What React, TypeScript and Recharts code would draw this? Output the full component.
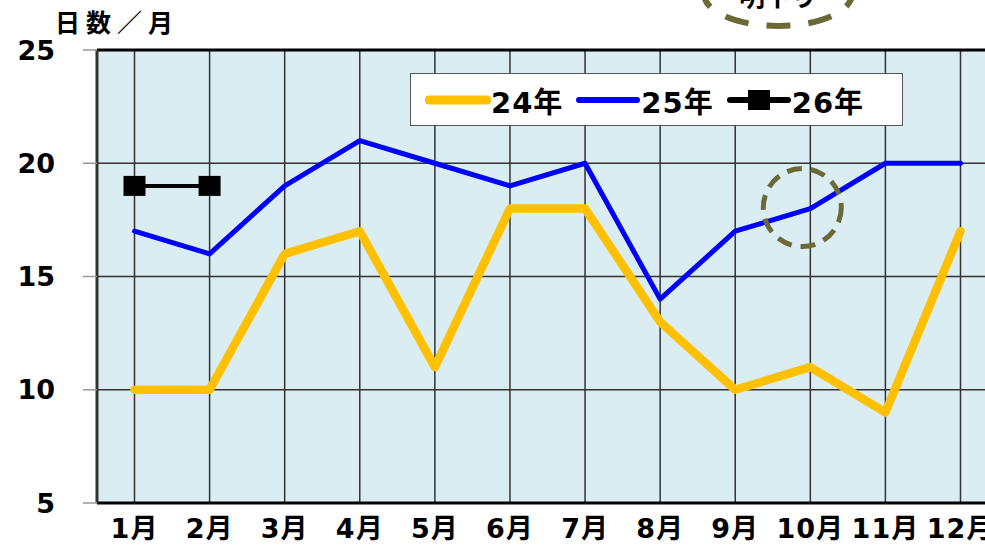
import React from 'react'
import {
  LineChart,
  Line,
  XAxis,
  YAxis,
  CartesianGrid,
  ReferenceDot,
  ReferenceLine,
} from 'recharts'

const months = ['1月', '2月', '3月', '4月', '5月', '6月', '7月', '8月', '9月', '10月', '11月', '12月']
const days24 = [10, 10, 16, 17, 11, 18, 18, 13, 10, 11, 9, 17]
const days25 = [17, 16, 19, 21, 20, 19, 20, 14, 17, 18, 20, 20]
const days26 = [19, 19]
const yTicks = [5, 10, 15, 20, 25]

const FONT = '"DejaVu Sans", "Noto Sans CJK JP", sans-serif'
const OLIVE = '#6b6a36'

const data = months.map((m, i) => ({
  month: m,
  y24: days24[i],
  y25: days25[i],
  y26: days26[i],
}))

// eslint-disable-next-line @typescript-eslint/no-explicit-any
function SquareDot({ cx, cy }: any) {
  if (cx == null || cy == null) return null
  return <rect x={cx - 11} y={cy - 10} width={22} height={20} fill="#000" />
}

function LegendBox() {
  const item = (color: string, width: number, label: string, square?: boolean) => (
    <div style={{ display: 'flex', alignItems: 'center' }}>
      <svg width={66} height={22}>
        <line x1={4} y1={11} x2={62} y2={11} stroke={color} strokeWidth={width} strokeLinecap="round" />
        {square && <rect x={22} y={1} width={22} height={20} fill="#000" />}
      </svg>
      <span style={{ fontSize: 29, fontWeight: 700, color: '#000', letterSpacing: 1 }}>{label}</span>
    </div>
  )
  return (
    <div
      style={{
        position: 'absolute',
        left: 410,
        top: 73,
        width: 493,
        height: 53,
        boxSizing: 'border-box',
        background: '#fff',
        border: '1.5px solid #555',
        display: 'flex',
        alignItems: 'center',
        paddingLeft: 14,
        gap: 12,
        fontFamily: FONT,
      }}
    >
      {item('#FFC000', 9, '24年')}
      {item('#0000FF', 6, '25年')}
      {item('#000', 6, '26年', true)}
    </div>
  )
}

export default function App() {
  return (
    <div
      style={{
        position: 'absolute',
        left: 0,
        top: 0,
        width: 985,
        height: 545,
        overflow: 'hidden',
        background: '#fff',
        fontFamily: FONT,
      }}
    >
      <LineChart width={1000} height={545} data={data} margin={{ top: 50, right: 2, left: 0, bottom: 0 }}>
        <CartesianGrid stroke="#333" strokeWidth={1.5} fill="#DAEDF3" fillOpacity={1} />
        <XAxis
          dataKey="month"
          height={42}
          padding={{ left: 37.5, right: 37.5 }}
          axisLine={{ stroke: '#000', strokeWidth: 3 }}
          tickLine={false}
          tickSize={0}
          tickMargin={16}
          tick={{ fill: '#000', fontSize: 27, fontWeight: 700, fontFamily: FONT, letterSpacing: 1 }}
          interval={0}
        />
        <YAxis
          width={97}
          domain={[5, 25]}
          ticks={yTicks}
          allowDataOverflow
          axisLine={{ stroke: '#333', strokeWidth: 3 }}
          tickLine={{ stroke: '#999', strokeWidth: 1.5 }}
          tickSize={14}
          tickMargin={28}
          tick={{ fill: '#000', fontSize: 27, fontWeight: 700, fontFamily: FONT }}
        />
        <ReferenceLine y={25} stroke="#000" strokeWidth={3} />
        <Line
          dataKey="y24"
          stroke="#FFC000"
          strokeWidth={8.5}
          strokeLinejoin="round"
          strokeLinecap="round"
          dot={false}
          activeDot={false}
          isAnimationActive={false}
        />
        <Line
          dataKey="y25"
          stroke="#0000FF"
          strokeWidth={5}
          strokeLinejoin="round"
          strokeLinecap="round"
          dot={false}
          activeDot={false}
          isAnimationActive={false}
        />
        <Line
          dataKey="y26"
          stroke="#000"
          strokeWidth={4}
          dot={<SquareDot />}
          activeDot={false}
          isAnimationActive={false}
        />
        <ReferenceDot
          x="10月"
          y={18}
          r={41}
          shape={(p: any) => (
            <circle
              cx={p.cx - 8}
              cy={p.cy - 1}
              r={39}
              fill="none"
              stroke={OLIVE}
              strokeWidth={5}
              strokeDasharray="15 9"
            />
          )}
        />
      </LineChart>

      <LegendBox />

      <div
        style={{
          position: 'absolute',
          left: 55,
          top: 5,
          fontSize: 25,
          fontWeight: 700,
          letterSpacing: 6,
          color: '#000',
          lineHeight: '32px',
          fontFamily: '"Noto Sans CJK JP", sans-serif',
        }}
      >
        日数／月
      </div>

      <svg width={985} height={60} style={{ position: 'absolute', left: 0, top: 0, pointerEvents: 'none' }}>
        <text x={778} y={6} textAnchor="middle" fontSize={26} fontWeight={700} fontFamily={FONT} fill="#000">
          明下り
        </text>
        <ellipse
          cx={778}
          cy={-6}
          rx={74}
          ry={32}
          fill="none"
          stroke={OLIVE}
          strokeWidth={6}
          strokeDasharray="24 18"
          strokeDashoffset={10}
        />
      </svg>
    </div>
  )
}
